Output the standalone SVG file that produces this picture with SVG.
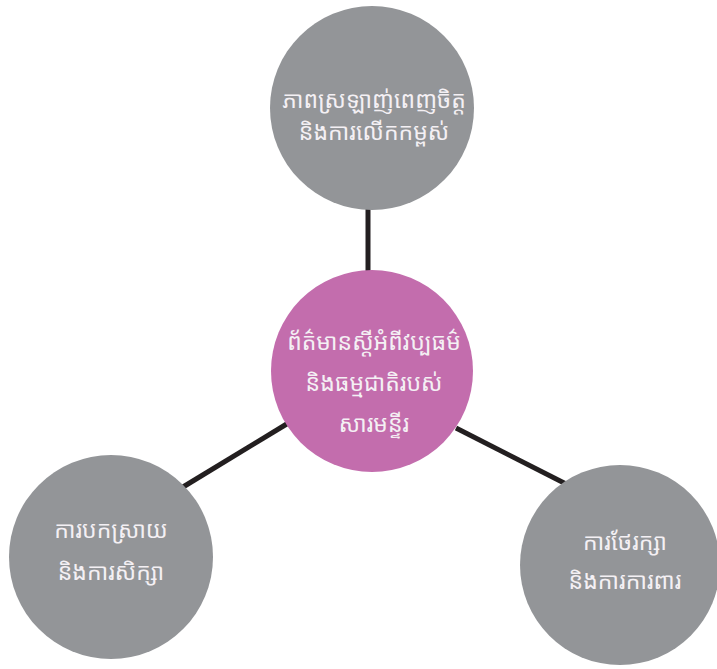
<svg xmlns="http://www.w3.org/2000/svg" width="717" height="669" viewBox="0 0 717 669">
<style>
.g{fill:#939598}
.p{fill:#c36dad}
.t{fill:#f4f0f4;font-family:"Noto Sans Khmer","Khmer OS","Noto Serif Khmer","Noto Sans","DejaVu Sans",sans-serif;font-size:23px;text-anchor:middle}
.c{stroke:#231f20;stroke-width:5;fill:none}
</style>
<rect width="717" height="669" fill="#ffffff"/>
<g id="connectors">
<line class="c" x1="368" y1="205" x2="368" y2="274"/>
<line class="c" x1="183" y1="487" x2="290" y2="422"/>
<line class="c" x1="456" y1="428" x2="572" y2="487"/>
</g>
<g id="node-top">
<circle class="g" cx="372" cy="108" r="102"/>
<text class="t" x="374" y="108">ភាពស្រឡាញ់ពេញចិត្ត</text>
<text class="t" x="374" y="140">និងការលើកកម្ពស់</text>
</g>
<g id="node-center">
<circle class="p" cx="372" cy="371" r="101"/>
<text class="t" x="374" y="350">ព័ត៌មានស្ដីអំពីវប្បធម៌</text>
<text class="t" x="374" y="391">និងធម្មជាតិរបស់</text>
<text class="t" x="374" y="432">សារមន្ទីរ</text>
</g>
<g id="node-left">
<circle class="g" cx="111" cy="557" r="102"/>
<text class="t" x="111" y="538">ការបកស្រាយ</text>
<text class="t" x="111" y="580">និងការសិក្សា</text>
</g>
<g id="node-right">
<circle class="g" cx="620" cy="565" r="100"/>
<text class="t" x="625" y="550">ការថែរក្សា</text>
<text class="t" x="625" y="589">និងការការពារ</text>
</g>
</svg>
